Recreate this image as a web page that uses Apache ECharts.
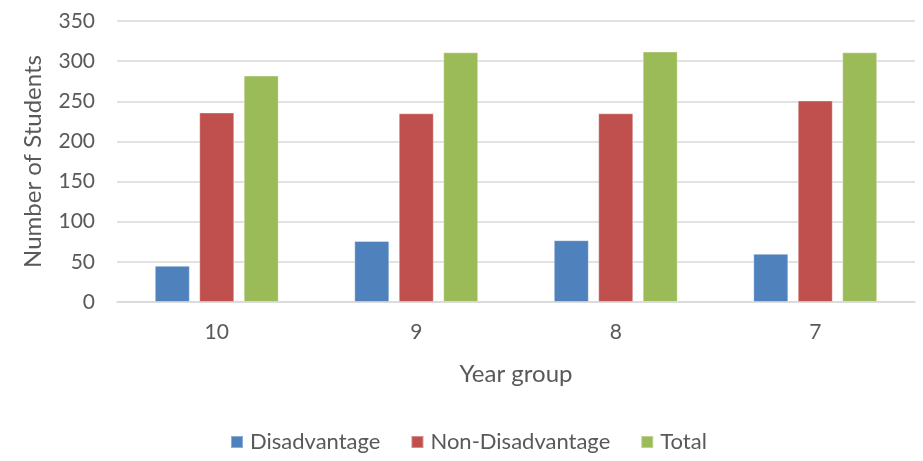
<!DOCTYPE html>
<html>
<head>
<meta charset="utf-8">
<script src="https://cdn.jsdelivr.net/npm/echarts@6/dist/echarts.min.js"></script>
<style>html,body{margin:0;padding:0;background:#fff;}#chart{width:923px;height:461px;}</style>
</head>
<body>
<div id="chart"></div>
<script>
var categories = ['10', '9', '8', '7'];
var disadvantage = [45, 76, 77, 60];
var nonDisadvantage = [236, 235, 235, 251];
var total = [282, 311, 312, 311];
var seriesNames = ['Disadvantage', 'Non-Disadvantage', 'Total'];
var colors = ['#4F81BD', '#C0504D', '#9BBB59'];

var FONT = 'Lato, "Open Sans", sans-serif';
var chart = echarts.init(document.getElementById('chart'));
var data = [disadvantage, nonDisadvantage, total];
chart.setOption({
  animation: false,
  color: colors,
  textStyle: { fontFamily: FONT },
  grid: { left: 117, right: 8, top: 21, bottom: 159, containLabel: false },
  legend: {
    bottom: 3, left: 225,
    itemWidth: 12, itemHeight: 12, itemGap: 30,
    icon: 'rect',
    textStyle: { fontSize: 22, color: '#595959', fontFamily: FONT, padding: [0, 0, 0, 2] },
    data: seriesNames
  },
  xAxis: {
    type: 'category',
    data: categories,
    name: 'Year group',
    nameLocation: 'middle',
    nameGap: 60,
    nameTextStyle: { fontSize: 24, color: '#595959', fontFamily: FONT },
    axisLine: { lineStyle: { color: '#d9d9d9', width: 1.5 } },
    axisTick: { show: false },
    axisLabel: { fontSize: 21, color: '#595959', margin: 20, fontFamily: FONT }
  },
  yAxis: {
    type: 'value',
    min: 0, max: 350, interval: 50,
    name: 'Number of Students',
    nameLocation: 'middle',
    nameGap: 72,
    nameTextStyle: { fontSize: 24, color: '#595959', fontFamily: FONT },
    axisLine: { show: false },
    axisTick: { show: false },
    axisLabel: { fontSize: 21, color: '#595959', margin: 22, fontFamily: FONT },
    splitLine: { lineStyle: { color: '#d9d9d9', width: 1.5 } }
  },
  series: seriesNames.map(function (n, i) {
    return {
      name: n, type: 'bar', data: data[i],
      barWidth: 35, barGap: '27%',
      itemStyle: { color: colors[i], borderColor: 'rgba(255,255,255,0.35)', borderWidth: 1 }
    };
  })
});
</script>
</body>
</html>
